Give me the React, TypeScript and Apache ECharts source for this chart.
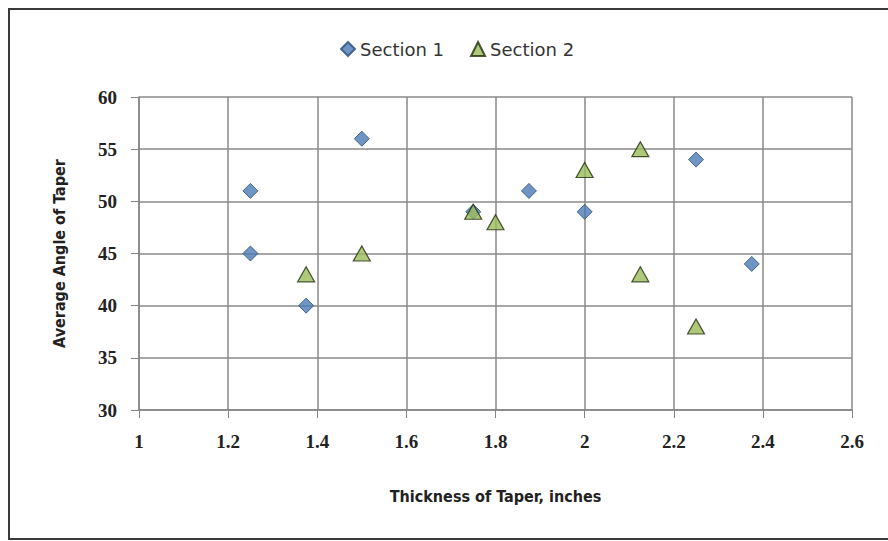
import React, { useEffect, useRef } from "react";
import * as echarts from "echarts";

const section1: [number, number][] = [
  [1.25, 51], [1.25, 45], [1.375, 40], [1.5, 56], [1.75, 49],
  [1.875, 51], [2.0, 49], [2.25, 54], [2.375, 44],
];
const section2: [number, number][] = [
  [1.375, 43], [1.5, 45], [1.75, 49], [1.8, 48], [2.0, 53],
  [2.125, 55], [2.125, 43], [2.25, 38],
];
const seriesNames = ["Section 1", "Section 2"];
const xTitle = "Thickness of Taper, inches";
const yTitle = "Average Angle of Taper";

const FONT = "'DejaVu Sans Condensed', 'Noto Sans', sans-serif";
const LEGEND_FONT = "'DejaVu Sans', 'Noto Sans', sans-serif";
const TICK_FONT = "'Liberation Serif', 'DejaVu Serif', serif";

export default function App() {
  const ref = useRef<HTMLDivElement>(null);
  useEffect(() => {
    document.body.style.margin = "0";
    const chart = echarts.init(ref.current!, null, { renderer: "svg" });
    chart.setOption({
      animation: false,
      backgroundColor: "#ffffff",
      graphic: [
        {
          type: "rect",
          shape: { x: 9, y: 9, width: 890, height: 530 },
          style: { fill: "none", stroke: "#3a3a3a", lineWidth: 2 },
          silent: true,
        },
      ],
      legend: {
        top: 35,
        left: 335,
        itemGap: 26,
        itemWidth: 14,
        itemHeight: 14,
        textStyle: { fontFamily: LEGEND_FONT, fontSize: 18, color: "#333" },
        data: seriesNames,
      },
      grid: { left: 139, right: 36, top: 97, bottom: 131, containLabel: false },
      xAxis: {
        type: "value",
        min: 1,
        max: 2.6,
        interval: 0.2,
        name: xTitle,
        nameLocation: "middle",
        nameGap: 78,
        nameTextStyle: { fontFamily: FONT, fontSize: 16, fontWeight: "bold", color: "#222" },
        axisLine: { show: true, lineStyle: { color: "#858585", width: 1.5 } },
        axisTick: { show: true, length: 8, lineStyle: { color: "#858585" } },
        splitLine: { show: true, lineStyle: { color: "#8a8a8a", width: 1.5 } },
        axisLabel: {
          margin: 22,
          fontFamily: TICK_FONT,
          fontSize: 19,
          fontWeight: "bold",
          color: "#222",
          formatter: (v: number) => String(Math.round(v * 10) / 10),
        },
      },
      yAxis: {
        type: "value",
        min: 30,
        max: 60,
        interval: 5,
        name: yTitle,
        nameLocation: "middle",
        nameGap: 72,
        nameTextStyle: { fontFamily: FONT, fontSize: 16, fontWeight: "bold", color: "#222" },
        axisLine: { show: true, lineStyle: { color: "#858585", width: 1.5 } },
        axisTick: { show: true, length: 8, lineStyle: { color: "#858585" } },
        splitLine: { show: true, lineStyle: { color: "#8a8a8a", width: 1.5 } },
        axisLabel: {
          margin: 22,
          fontFamily: TICK_FONT,
          fontSize: 19,
          fontWeight: "bold",
          color: "#222",
        },
      },
      series: [
        {
          name: seriesNames[0],
          type: "scatter",
          symbol: "diamond",
          symbolSize: [15, 15],
          itemStyle: { color: "#4a7ab5", borderColor: "#2c4d75", borderWidth: 1 },
          data: section1,
        },
        {
          name: seriesNames[1],
          type: "scatter",
          symbol: "triangle",
          symbolSize: [17, 15],
          itemStyle: { color: "#9bbb59", borderColor: "#1f2d0c", borderWidth: 1.2 },
          data: section2,
        },
      ],
    });
    return () => chart.dispose();
  }, []);
  return (
    <div
      ref={ref}
      style={{ position: "absolute", left: 0, top: 0, width: 888, height: 541 }}
    />
  );
}
